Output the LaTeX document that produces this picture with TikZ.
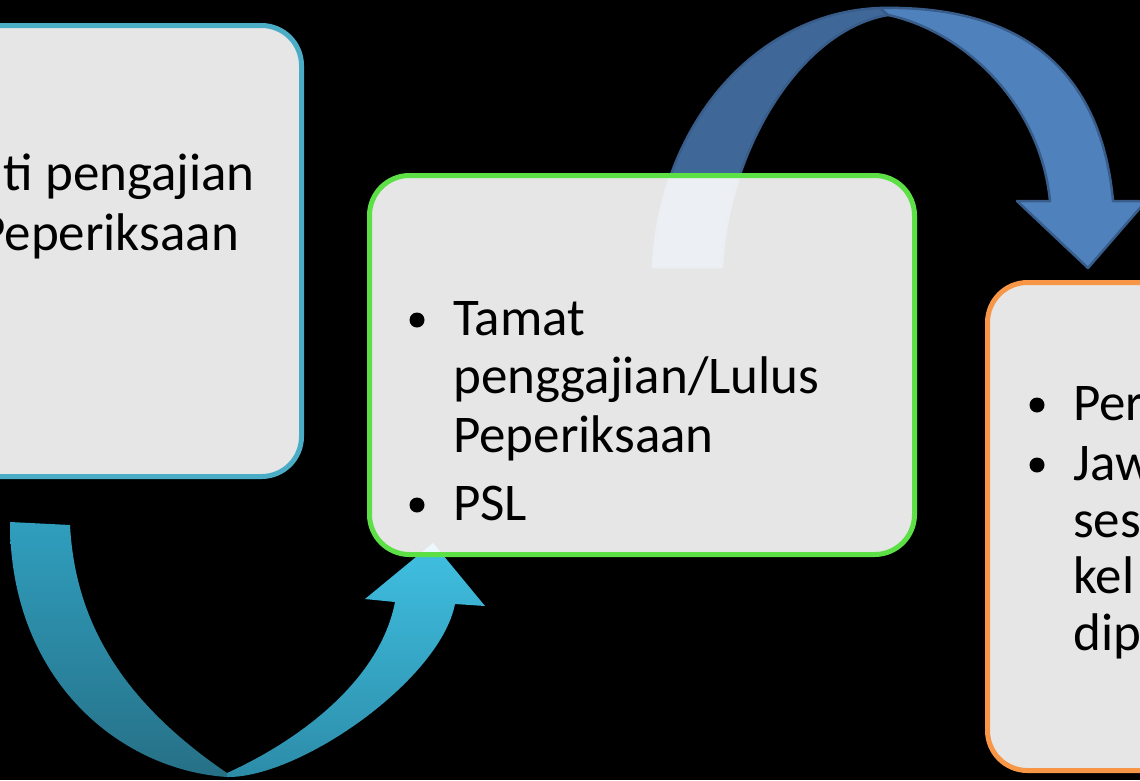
\documentclass[tikz,border=0pt]{standalone}
\usepackage{fontspec}
\setmainfont{Carlito}
\definecolor{tealborder}{HTML}{4BACC6}
\definecolor{greenborder}{RGB}{92,224,70}
\definecolor{orangeborder}{HTML}{F79646}
\definecolor{bluefront}{HTML}{4F81BD}
\definecolor{blueback}{RGB}{63,104,152}
\definecolor{blueline}{HTML}{385D8A}
\definecolor{cyanfronttop}{RGB}{64,192,226}
\definecolor{cyanfrontbot}{RGB}{44,140,168}
\definecolor{cyanbacktop}{RGB}{48,158,190}
\definecolor{cyanbackbot}{RGB}{38,112,134}
\begin{document}
\begin{tikzpicture}[x=1pt,y=-1pt,
  box/.style={rectangle, rounded corners=40pt, line width=5pt, fill=white, fill opacity=0.9, inner sep=0pt},
  txt/.style={anchor=base west, inner sep=0pt, font=\fontsize{53}{58}\selectfont, text=black},
  txtr/.style={anchor=base east, inner sep=0pt, font=\fontsize{53}{58}\selectfont, text=black},
  bul/.style={circle, fill=black, minimum size=15pt, inner sep=0pt},
  arrowfront/.style={fill=bluefront, draw=blueline, line width=2.5pt, line join=round},
  arrowback/.style={fill=blueback, draw=blueline, line width=2.5pt, line join=round}]
\useasboundingbox (0,0) rectangle (1140,780);
\clip (0,0) rectangle (1140,780);
\fill[black] (0,0) rectangle (1140,780);

% bottom curved arrow (left box -> middle box)
\shade[top color=cyanbacktop, bottom color=cyanbackbot]
  (10,522) -- (70,525) .. controls (75,620) and (120,700) .. (227,773)
  -- (227,777) .. controls (120,770) and (10,680) .. (10,522) -- cycle;
\shade[top color=cyanfronttop, bottom color=cyanfrontbot]
  (227,777) .. controls (300,778) and (440,680) .. (455,604)
  -- (485,606) -- (433,543) -- (365,599) -- (395,602)
  .. controls (380,680) and (300,740) .. (227,773) -- cycle;

% top curved arrow (middle box -> right box)
\filldraw[arrowback] (653,267) .. controls (660,120) and (760,12) .. (880,8)
  -- (888,15) .. controls (800,30) and (728,150) .. (722,267) -- cycle;
\filldraw[arrowfront] (880,8) .. controls (1010,5) and (1100,60) .. (1113,201)
  -- (1146,201) -- (1088,268) -- (1017,201) -- (1050,201)
  .. controls (1040,100) and (960,30) .. (888,15) -- cycle;

% boxes
\node[box, draw=tealborder, minimum width=551.5pt, minimum height=451pt] (left) at (25.75,251) {};
\node[box, draw=greenborder, minimum width=545pt, minimum height=379pt] (mid) at (642,365) {};
\node[box, draw=orangeborder, minimum width=512.5pt, minimum height=488pt] (right) at (1243.75,526.5) {};

% left box text
\node[txtr] (l1) at (255,190) {ti pengajian};
\node[txtr] (l2) at (239,250) {Peperiksaan};

% middle box text
\node[bul] (mb1) at (417,320) {};
\node[txt] (m1) at (453,335) {Tamat};
\node[txt] (m2) at (453,393) {penggajian/Lulus};
\node[txt] (m3) at (453,452) {Peperiksaan};
\node[bul] (mb2) at (417,505) {};
\node[txt] (m4) at (453,520) {PSL};

% right box text
\node[bul] (rb1) at (1037,405) {};
\node[txt] (r1) at (1073,420) {Per};
\node[bul] (rb2) at (1037,465) {};
\node[txt] (r2) at (1073,480) {Jaw};
\node[txt] (r3) at (1073,537) {ses};
\node[txt] (r4) at (1073,593) {kel};
\node[txt] (r5) at (1073,650) {dip};
\end{tikzpicture}
\end{document}
